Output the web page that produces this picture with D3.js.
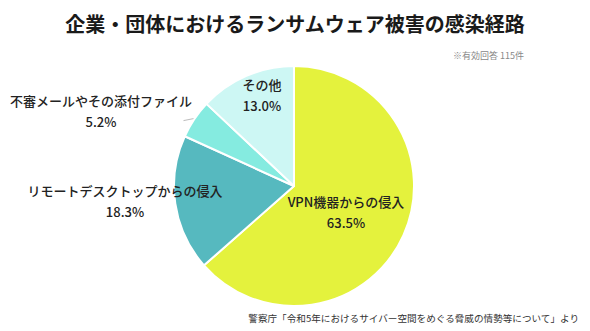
<!DOCTYPE html>
<html><head><meta charset="utf-8">
<script src="https://cdn.jsdelivr.net/npm/d3@7"></script>
<style>
html,body{margin:0;padding:0;background:#fff;}
text{font-family:"Noto Sans CJK JP","Noto Sans",sans-serif;}
</style></head>
<body><svg id="c" width="590" height="331"></svg>
<script>
const categories = ["VPN機器からの侵入","リモートデスクトップからの侵入","不審メールやその添付ファイル","その他"];
const values = [63.5, 18.3, 5.2, 13.0];
const colors = ["#e4f23d","#56b9bf","#85ebe0","#cdf7f4"];
const labelPos = [[346,207],[125,196],[101,106],[262,90]];

const svg = d3.select("#c");
const cx = 294, cy = 186, r = 120;
const data = categories.map((c,i)=>({cat:c,val:values[i],color:colors[i],lp:labelPos[i]}));
const pie = d3.pie().value(d=>d.val).sort(null);
const arc = d3.arc().innerRadius(0).outerRadius(r);
const g = svg.append("g").attr("transform",`translate(${cx},${cy})`);
const arcs = pie(data);
g.selectAll("path").data(arcs).enter().append("path")
  .attr("d",arc).attr("fill",d=>d.data.color)
  .attr("stroke","#fff").attr("stroke-width",2).attr("stroke-linejoin","round");

// leader line for small slice
const a2 = arcs[2];
const mid = (a2.startAngle+a2.endAngle)/2;
const p1 = [Math.sin(mid)*(r+1), -Math.cos(mid)*(r+1)];
g.append("line").attr("x1",p1[0]).attr("y1",p1[1]).attr("x2",p1[0]-10).attr("y2",p1[1]+2)
  .attr("stroke","#aaa").attr("stroke-width",0.8);

const lg = svg.append("g");
data.forEach(d=>{
  lg.append("text").attr("x",d.lp[0]).attr("y",d.lp[1]).attr("text-anchor","middle")
    .attr("font-size",13).attr("font-weight",500).attr("fill","#222").text(d.cat);
  lg.append("text").attr("x",d.lp[0]).attr("y",d.lp[1]+21).attr("text-anchor","middle")
    .attr("font-size",13).attr("font-weight",500).attr("fill","#222").text(d.val.toFixed(1)+"%");
});

svg.append("text").attr("x",295).attr("y",32).attr("text-anchor","middle")
  .attr("font-size",20).attr("font-weight",700).attr("fill","#1a1a1a")
  .text("企業・団体におけるランサムウェア被害の感染経路");
svg.append("text").attr("x",524).attr("y",59).attr("text-anchor","end")
  .attr("font-size",9).attr("fill","#888").text("※有効回答 115件");
svg.append("text").attr("x",579).attr("y",322).attr("text-anchor","end")
  .attr("font-size",9.6).attr("fill","#333")
  .text("警察庁「令和5年におけるサイバー空間をめぐる脅威の情勢等について」より");
</script></body></html>
